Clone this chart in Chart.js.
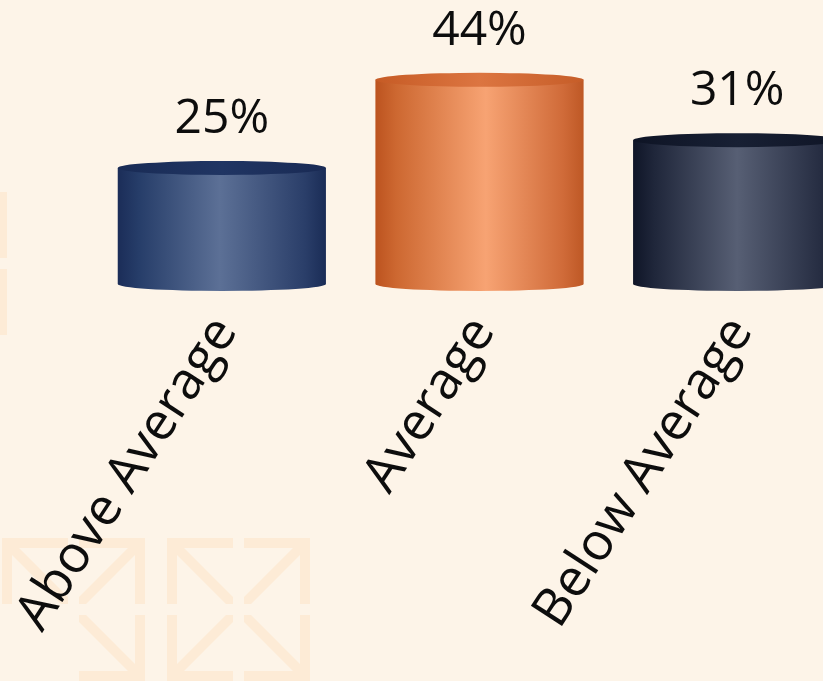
<!DOCTYPE html>
<html>
<head>
<meta charset="utf-8">
<script src="https://cdn.jsdelivr.net/npm/chart.js@4.4.1/dist/chart.umd.min.js"></script>
<style>
  html, body { margin: 0; padding: 0; width: 823px; height: 681px; overflow: hidden; background: #fdf4e8; }
  #chart { position: absolute; left: 0; top: 0; }
</style>
</head>
<body>
<canvas id="chart" width="900" height="681"></canvas>
<script>
// Performance groups and their share of respondents (%)
const categories = ['Above Average', 'Average', 'Below Average'];
const shares = [25, 44, 31];

// Cylinder shading: horizontal gradient for the body, darker cap on top
const bodyStops = [
  [[0, '#1b2d58'], [0.1, '#263d69'], [0.49, '#5c7096'], [0.9, '#2a3e69'], [1, '#1a2c56']],
  [[0, '#bc531f'], [0.1, '#cd6831'], [0.53, '#f7a373'], [0.9, '#d06b39'], [1, '#be5825']],
  [[0, '#0f1527'], [0.1, '#1f263a'], [0.5, '#575f74'], [0.9, '#262d42'], [1, '#111728']]
];
const capStops = [
  [[0, '#192b55'], [0.5, '#203563'], [1, '#192a54']],
  [[0, '#c65b25'], [0.5, '#dc7541'], [1, '#c65d28']],
  [[0, '#0e1425'], [0.5, '#182034'], [1, '#0f1526']]
];
const CAP_RY = 7;
const BG = '#fdf4e8';
const DECO = '#fdebd6';

function gradient(ctx, left, right, stops) {
  const g = ctx.createLinearGradient(left, 0, right, 0);
  stops.forEach(([o, c]) => g.addColorStop(o, c));
  return g;
}

// Arrow tile of the page background: an L-shaped corner plus a diagonal
function arrowTile(ctx, x0, y0, s, dir) {
  const t = 10;
  ctx.save();
  ctx.beginPath();
  ctx.rect(x0, y0, s, s);
  ctx.clip();
  ctx.fillStyle = DECO;
  ctx.strokeStyle = DECO;
  ctx.lineWidth = 10;
  const top = dir[0] === 't';
  const left = dir[1] === 'l';
  ctx.fillRect(x0, top ? y0 : y0 + s - t, s, t);
  ctx.fillRect(left ? x0 : x0 + s - t, y0, t, s);
  ctx.beginPath();
  const cx = left ? x0 : x0 + s, cy = top ? y0 : y0 + s;
  const ox = left ? x0 + s : x0, oy = top ? y0 + s : y0;
  ctx.moveTo(cx, cy);
  ctx.lineTo(ox + (ox - cx) * 0.1, oy + (oy - cy) * 0.1);
  ctx.stroke();
  ctx.restore();
}

const backdrop = {
  id: 'backdrop',
  beforeDraw(chart) {
    const ctx = chart.ctx;
    ctx.save();
    ctx.fillStyle = BG;
    ctx.fillRect(0, 0, chart.width, chart.height);
    // edge tiles
    arrowTile(ctx, -59, 192, 66, 'tr');
    arrowTile(ctx, -59, 269, 66, 'br');
    // lower-left tile block
    arrowTile(ctx, 2, 538, 66, 'tl');
    arrowTile(ctx, 79, 538, 66, 'tr');
    arrowTile(ctx, 79, 615, 66, 'br');
    arrowTile(ctx, 167, 538, 66, 'tl');
    arrowTile(ctx, 244, 538, 66, 'tr');
    arrowTile(ctx, 167, 615, 66, 'bl');
    arrowTile(ctx, 244, 615, 66, 'br');
    ctx.restore();
  }
};

const cylinders = {
  id: 'cylinders',
  afterDatasetsDraw(chart) {
    const ctx = chart.ctx;
    const meta = chart.getDatasetMeta(0);
    meta.data.forEach((bar, i) => {
      const { x, y, base, width } = bar.getProps(['x', 'y', 'base', 'width'], true);
      const rx = width / 2, l = x - rx, r = x + rx;
      ctx.save();
      // body with rounded bottom
      ctx.beginPath();
      ctx.moveTo(l, y);
      ctx.lineTo(l, base);
      ctx.ellipse(x, base, rx, CAP_RY, 0, Math.PI, 0, true);
      ctx.lineTo(r, y);
      ctx.closePath();
      ctx.fillStyle = gradient(ctx, l, r, bodyStops[i]);
      ctx.fill();
      // top cap
      ctx.beginPath();
      ctx.ellipse(x, y, rx, CAP_RY, 0, 0, Math.PI * 2);
      ctx.fillStyle = gradient(ctx, l, r, capStops[i]);
      ctx.fill();
      // value label
      ctx.fillStyle = '#0d0d0d';
      ctx.font = '48px "Open Sans"';
      ctx.textAlign = 'center';
      ctx.textBaseline = 'alphabetic';
      ctx.fillText(chart.data.datasets[0].data[i] + '%', x, y - CAP_RY - 28);
      ctx.restore();
    });
  }
};

function draw() {
  new Chart(document.getElementById('chart'), {
    type: 'bar',
    data: {
      labels: categories,
      datasets: [{
        data: shares,
        backgroundColor: 'rgba(0,0,0,0)',
        borderWidth: 0,
        categoryPercentage: 1,
        barPercentage: 0.808
      }]
    },
    options: {
      responsive: false,
      animation: false,
      events: [],
      layout: { padding: { left: 93, right: 34, top: 0, bottom: 0 } },
      plugins: { legend: { display: false }, tooltip: { enabled: false } },
      scales: {
        x: {
          grid: { display: false },
          border: { display: false },
          ticks: {
            color: '#0d0d0d',
            font: { family: 'Open Sans', size: 52 },
            minRotation: 57,
            maxRotation: 57,
            padding: 14,
            labelOffset: 4,
            autoSkip: false
          },
          afterFit(scale) {
            scale.height = 397;
            scale.paddingLeft = 0;
            scale.paddingRight = 0;
          }
        },
        y: {
          display: false,
          min: 0,
          max: 61.2
        }
      }
    },
    plugins: [backdrop, cylinders]
  });
}

if (document.fonts && document.fonts.load) {
  Promise.all([document.fonts.load('52px "Open Sans"'), document.fonts.load('48px "Open Sans"')])
    .then(draw, draw);
} else {
  draw();
}
</script>
</body>
</html>
